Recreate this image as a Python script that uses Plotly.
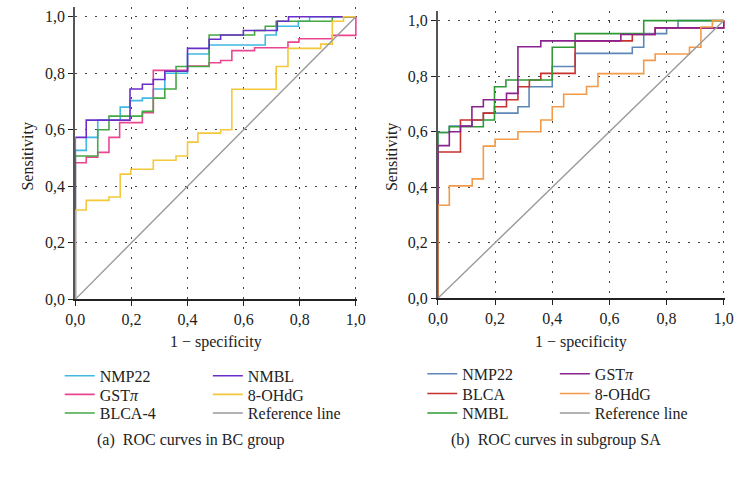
import plotly.graph_objects as go

# ---------------- (a) BC group ----------------
bc_nmp22_fpr = [0, 0, 0.039, 0.08, 0.16, 0.195, 0.239, 0.278, 0.319, 0.40, 0.477, 0.677, 0.716, 0.795, 0.835, 1.0]
bc_nmp22_tpr = [0, 0.527, 0.573, 0.634, 0.68, 0.703, 0.712, 0.744, 0.80, 0.868, 0.90, 0.935, 0.966, 0.984, 1.0, 1.0]

bc_gst_fpr = [0, 0, 0.039, 0.08, 0.12, 0.158, 0.239, 0.278, 0.40, 0.477, 0.518, 0.558, 0.639, 0.758, 0.797, 0.916, 1.0]
bc_gst_tpr = [0, 0.483, 0.503, 0.52, 0.573, 0.625, 0.66, 0.81, 0.825, 0.837, 0.845, 0.88, 0.89, 0.91, 0.922, 0.934, 1.0]

bc_blca_fpr = [0, 0, 0.08, 0.12, 0.239, 0.278, 0.319, 0.359, 0.477, 0.639, 0.677, 0.716, 0.916, 1.0]
bc_blca_tpr = [0, 0.507, 0.60, 0.648, 0.665, 0.712, 0.744, 0.824, 0.935, 0.951, 0.966, 0.984, 1.0, 1.0]

bc_nmbl_fpr = [0, 0, 0.039, 0.195, 0.239, 0.278, 0.319, 0.40, 0.477, 0.518, 0.599, 0.72, 0.76, 1.0]
bc_nmbl_tpr = [0, 0.573, 0.634, 0.744, 0.761, 0.778, 0.807, 0.888, 0.92, 0.935, 0.951, 0.984, 1.0, 1.0]

bc_ohdg_fpr = [0, 0, 0.039, 0.12, 0.16, 0.198, 0.278, 0.359, 0.40, 0.437, 0.518, 0.558, 0.716, 0.758, 0.875, 0.916, 0.956, 1.0]
bc_ohdg_tpr = [0, 0.316, 0.35, 0.362, 0.443, 0.46, 0.492, 0.507, 0.556, 0.588, 0.60, 0.743, 0.824, 0.888, 0.903, 0.984, 1.0, 1.0]

# ---------------- (b) subgroup SA ----------------
sa_nmp22_fpr = [0, 0, 0.04, 0.12, 0.159, 0.28, 0.319, 0.40, 0.48, 0.68, 0.72, 0.80, 0.84, 1.0]
sa_nmp22_tpr = [0, 0.597, 0.62, 0.642, 0.667, 0.69, 0.762, 0.835, 0.882, 0.904, 0.953, 0.974, 1.0, 1.0]

sa_blca_fpr = [0, 0, 0.079, 0.159, 0.198, 0.24, 0.28, 0.32, 0.36, 0.48, 0.68, 0.76, 1.0]
sa_blca_tpr = [0, 0.527, 0.642, 0.667, 0.69, 0.715, 0.762, 0.786, 0.81, 0.927, 0.95, 0.974, 1.0]

sa_nmbl_fpr = [0, 0, 0.04, 0.159, 0.198, 0.238, 0.40, 0.48, 0.72, 1.0]
sa_nmbl_tpr = [0, 0.597, 0.618, 0.642, 0.762, 0.786, 0.904, 0.953, 1.0, 1.0]

sa_gst_fpr = [0, 0, 0.04, 0.079, 0.119, 0.159, 0.24, 0.28, 0.36, 0.64, 0.76, 1.0]
sa_gst_tpr = [0, 0.55, 0.60, 0.62, 0.69, 0.715, 0.738, 0.906, 0.927, 0.95, 0.974, 1.0]

sa_ohdg_fpr = [0, 0, 0.04, 0.12, 0.159, 0.20, 0.28, 0.36, 0.40, 0.44, 0.52, 0.56, 0.72, 0.76, 0.88, 0.92, 0.96, 1.0]
sa_ohdg_tpr = [0, 0.335, 0.405, 0.43, 0.548, 0.573, 0.60, 0.642, 0.69, 0.735, 0.763, 0.809, 0.857, 0.88, 0.904, 0.977, 1.0, 1.0]

ref_x = [0, 1]
ref_y = [0, 1]

tick_vals = [0, 0.2, 0.4, 0.6, 0.8, 1.0]

FONT = "Liberation Serif"
W = 750
H = 483

def px(v):
    return v / W

def py(v):
    return 1 - v / H

fig = go.Figure()

# (name, x, y, colour, axis suffix, legend column x, legend row y)
series = [
    ("NMP22", bc_nmp22_fpr, bc_nmp22_tpr, "#3fb8e4", "", 51, 383),
    ("GST<i>π</i>", bc_gst_fpr, bc_gst_tpr, "#ea4690", "", 51, 402),
    ("BLCA-4", bc_blca_fpr, bc_blca_tpr, "#44a844", "", 51, 421),
    ("NMBL", bc_nmbl_fpr, bc_nmbl_tpr, "#6a2ec8", "", 203, 383),
    ("8-OHdG", bc_ohdg_fpr, bc_ohdg_tpr, "#f4c838", "", 203, 402),
    ("Reference line", ref_x, ref_y, "#9a9a9a", "", 203, 421),
    ("NMP22", sa_nmp22_fpr, sa_nmp22_tpr, "#5d87b6", "2", 423, 381),
    ("BLCA", sa_blca_fpr, sa_blca_tpr, "#c8322e", "2", 423, 401),
    ("NMBL", sa_nmbl_fpr, sa_nmbl_tpr, "#2f9a35", "2", 423, 421),
    ("GST<i>π</i>", sa_gst_fpr, sa_gst_tpr, "#8c2190", "2", 559, 381),
    ("8-OHdG", sa_ohdg_fpr, sa_ohdg_tpr, "#f29a4a", "2", 559, 401),
    ("Reference line", ref_x, ref_y, "#9a9a9a", "2", 559, 421),
]

leg_common = dict(bgcolor="rgba(0,0,0,0)", borderwidth=0, font=dict(family=FONT, size=16, color="#222"),
                  xanchor="left", yanchor="middle", itemwidth=30, itemclick=False, itemdoubleclick=False)
legend_layout = {}
for i, (name, xs, ys, col, ax, lx, ly) in enumerate(series):
    lname = "legend" if i == 0 else f"legend{i + 1}"
    is_ref = name == "Reference line"
    fig.add_trace(go.Scatter(
        x=xs, y=ys, mode="lines", name=name,
        line=dict(color=col, width=1.4 if is_ref else 1.6, shape="linear" if is_ref else "hv"),
        xaxis="x" + ax, yaxis="y" + ax, legend=lname))
    legend_layout[lname] = dict(x=px(lx), y=py(ly), **leg_common)

axis_common = dict(
    tickvals=tick_vals, tickformat=".1f", ticks="outside", ticklen=5, tickcolor="#222",
    showline=True, linecolor="#222", linewidth=1.5,
    showgrid=True, gridcolor="#444", gridwidth=1, griddash="2px,8px",
    zeroline=False, tickfont=dict(family=FONT, size=16, color="#222"),
)
yaxis_extra = dict(linecolor="#555", linewidth=2)

fig.update_layout(
    width=W, height=H,
    margin=dict(l=0, r=0, t=0, b=0),
    paper_bgcolor="white", plot_bgcolor="white",
    separators=", ",
    font=dict(family=FONT, size=16, color="#222"),
    xaxis=dict(domain=[px(67), px(356)], range=[0, 1.004], anchor="y", **axis_common),
    yaxis=dict(domain=[py(305), py(305 - 288 * 1.035)], range=[0, 1.035], anchor="x", **{**axis_common, **yaxis_extra}),
    xaxis2=dict(domain=[px(439), px(733.5)], range=[0, 1.004], anchor="y2", **axis_common),
    yaxis2=dict(domain=[py(304), py(304 - 283 * 1.035)], range=[0, 1.035], anchor="x2", **{**axis_common, **yaxis_extra}),
    showlegend=True,
    **legend_layout,
)

ann = [
    dict(text="1 − specificity", x=px(211), y=py(349)),
    dict(text="1 − specificity", x=px(586), y=py(349)),
    dict(text="(a)  ROC curves in BC group", x=px(186), y=py(448)),
    dict(text="(b)  ROC curves in subgroup SA", x=px(560), y=py(448)),
    dict(text="Sensitivity", x=px(18), y=py(160), textangle=-90),
    dict(text="Sensitivity", x=px(392), y=py(160), textangle=-90),
]
for a in ann:
    fig.add_annotation(xref="paper", yref="paper", showarrow=False, xanchor="center", yanchor="middle",
                       font=dict(family=FONT, size=16, color="#222"), **a)

page_fix = (
    "document.documentElement.style.margin='0px';"
    "document.documentElement.style.overflow='hidden';"
    "document.body.style.margin='0px';"
    "document.body.style.overflow='hidden';"
)
fig.write_html("out.html", config={"displayModeBar": False}, post_script=page_fix)
